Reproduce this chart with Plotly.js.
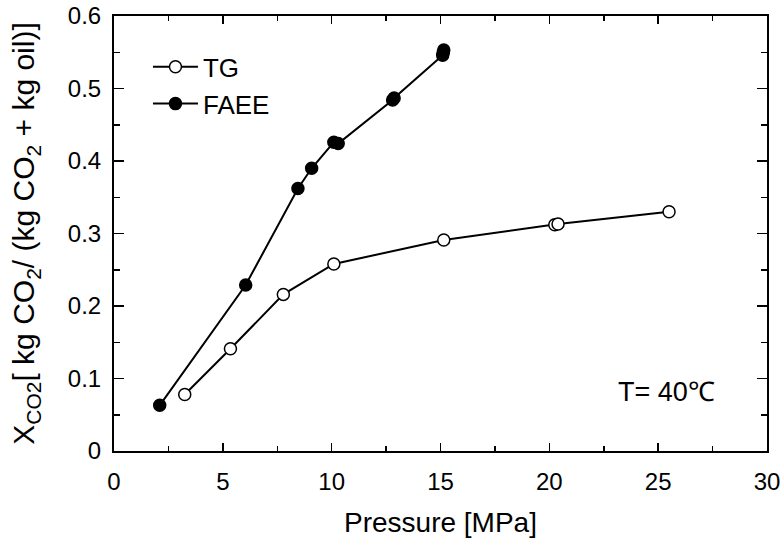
<!DOCTYPE html>
<html>
<head>
<meta charset="utf-8">
<script src="https://cdn.plot.ly/plotly-3.0.1.min.js"></script>
<style>html,body{margin:0;padding:0;background:#fff;}#chart{width:782px;height:544px;}</style>
</head>
<body>
<div id="chart"></div>
<script>
// TG (triglyceride) data
const tgPressure = [3.25, 5.35, 7.78, 10.1, 15.15, 20.25, 20.4, 25.5];
const tgX = [0.078, 0.141, 0.216, 0.258, 0.291, 0.312, 0.313, 0.330];
// FAEE data
const faeePressure = [2.1, 6.05, 8.45, 9.08, 10.1, 10.3, 12.8, 12.87, 15.1, 15.13, 15.15];
const faeeX = [0.063, 0.229, 0.362, 0.390, 0.426, 0.424, 0.484, 0.487, 0.546, 0.550, 0.553];

const FONT = '"Liberation Sans", Arial, Helvetica, sans-serif';

const traces = [
  {
    x: tgPressure, y: tgX, name: 'TG', type: 'scatter', mode: 'lines+markers',
    legendgroup: 'a',
    line: {color: '#000', width: 2},
    marker: {symbol: 'circle', size: 12, color: '#fff', line: {color: '#000', width: 1.5}}
  },
  {
    x: faeePressure, y: faeeX, name: 'FAEE', type: 'scatter', mode: 'lines+markers',
    legendgroup: 'b',
    line: {color: '#000', width: 2},
    marker: {symbol: 'circle', size: 12, color: '#000', line: {color: '#000', width: 1.5}}
  }
];

const axisCommon = {
  showgrid: false, zeroline: false, showline: true, linecolor: '#000', linewidth: 2,
  mirror: 'allticks', ticks: 'inside', tickwidth: 1.5, tickcolor: '#000',
  tickfont: {family: FONT, size: 24, color: '#000'}
};

const layout = {
  width: 782, height: 544,
  margin: {l: 114, r: 15, t: 16, b: 93},
  paper_bgcolor: '#fff', plot_bgcolor: '#fff',
  font: {family: FONT, color: '#000'},
  showlegend: true,
  legend: {
    x: 0.052, y: 0.937, xanchor: 'left', yanchor: 'top',
    font: {family: FONT, size: 26, color: '#000'},
    bgcolor: 'rgba(0,0,0,0)', tracegroupgap: 0, itemwidth: 45
  },
  xaxis: Object.assign({}, axisCommon, {
    range: [0, 30], dtick: 5, tick0: 0, ticklen: 8, ticklabelstandoff: 8,
    minor: {dtick: 2.5, ticklen: 5, tickwidth: 1.5, tickcolor: '#000', ticks: 'inside'},
    title: {text: 'Pressure [MPa]', font: {family: FONT, size: 28, color: '#000'}, standoff: 19}
  }),
  yaxis: Object.assign({}, axisCommon, {
    range: [0, 0.6], dtick: 0.1, tick0: 0, ticklen: 10, ticklabelstandoff: 6,
    tickformat: '.1~f',
    minor: {dtick: 0.05, ticklen: 6, tickwidth: 1.5, tickcolor: '#000', ticks: 'inside'},
    title: {text: 'X<sub>CO2</sub>[ kg CO<sub>2</sub>/ (kg CO<sub>2</sub> + kg oil)]',
            font: {family: FONT, size: 30, color: '#000'}, standoff: 24}
  }),
  annotations: [{
    x: 25.36, y: 0.081, xref: 'x', yref: 'y', text: 'T= 40℃', showarrow: false,
    font: {family: FONT, size: 27, color: '#000'}
  }]
};

Plotly.newPlot('chart', traces, layout, {displayModeBar: false, staticPlot: true});
</script>
</body>
</html>
